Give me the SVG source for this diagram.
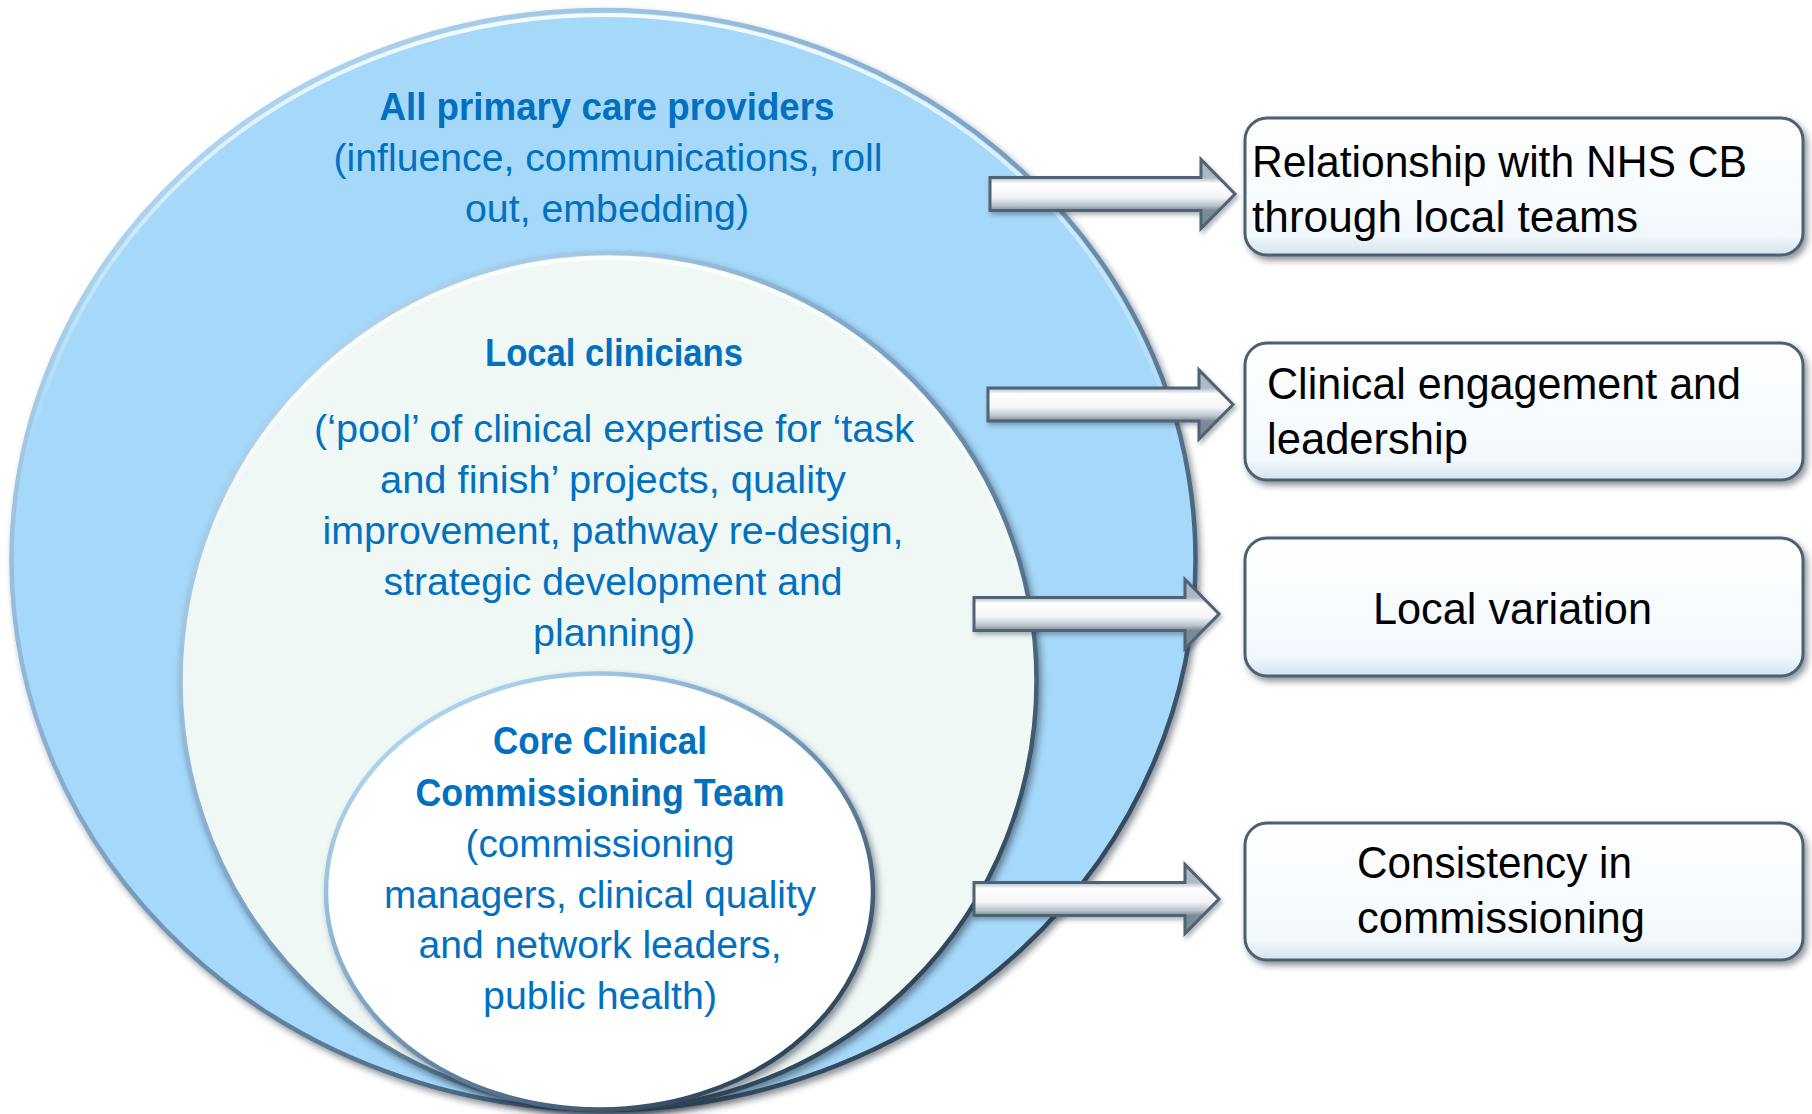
<svg xmlns="http://www.w3.org/2000/svg" width="1812" height="1114" viewBox="0 0 1812 1114">
<defs>
  <style>
    .blue { font-family: "Liberation Sans", Arial, sans-serif; font-size: 38px; fill: #0070C0; text-anchor: middle; }
    .bold { font-weight: bold; }
    .box-text { font-family: "Liberation Sans", Arial, sans-serif; font-size: 44px; fill: #000000; }
    .ring { stroke: url(#ringStroke); stroke-width: 4.5; filter: url(#shadow); }
    .hl { fill: none; stroke: url(#hlStroke); stroke-width: 4; }
    .box { fill: url(#boxFill); stroke: #4b6072; stroke-width: 3; filter: url(#shadow); }
    .arrow { fill: url(#arrowFill); stroke: #4f6375; stroke-width: 3; stroke-linejoin: miter; filter: url(#shadowSmall); }
  </style>
  <filter id="shadow" x="-10%" y="-10%" width="125%" height="125%">
    <feDropShadow dx="3" dy="4" stdDeviation="3" flood-color="#1d2b38" flood-opacity="0.5"/>
  </filter>
  <filter id="shadowSmall" x="-10%" y="-20%" width="120%" height="150%">
    <feDropShadow dx="2" dy="3" stdDeviation="2" flood-color="#1d2b38" flood-opacity="0.35"/>
  </filter>
  <linearGradient id="ringStroke" x1="0.15" y1="0" x2="0.9" y2="0.85">
    <stop offset="0" stop-color="#b9def7"/>
    <stop offset="0.45" stop-color="#7ea6c8"/>
    <stop offset="1" stop-color="#2c4256"/>
  </linearGradient>
  <linearGradient id="hlStroke" x1="0" y1="0" x2="0" y2="1">
    <stop offset="0" stop-color="#ffffff" stop-opacity="0.9"/>
    <stop offset="0.4" stop-color="#ffffff" stop-opacity="0"/>
  </linearGradient>
  <linearGradient id="boxFill" x1="0" y1="0" x2="0" y2="1">
    <stop offset="0" stop-color="#ffffff"/>
    <stop offset="0.85" stop-color="#f2f9fe"/>
    <stop offset="1" stop-color="#d5e2ec"/>
  </linearGradient>
  <linearGradient id="arrowFill" gradientUnits="userSpaceOnUse" x1="0" y1="-16.5" x2="0" y2="16.5">
    <stop offset="0" stop-color="#aeb8c3"/>
    <stop offset="0.18" stop-color="#ffffff"/>
    <stop offset="0.6" stop-color="#f2f4f6"/>
    <stop offset="0.85" stop-color="#b9c2cb"/>
    <stop offset="1" stop-color="#7c8996"/>
  </linearGradient>
  <path id="blockArrow" d="M0,-16.5 H211 V-34.5 L245,0 L211,34.5 V16.5 H0 Z"/>
</defs>

<rect x="0" y="0" width="1812" height="1114" fill="#ffffff"/>

<g id="node-all-primary-care-providers">
  <ellipse class="ring" cx="603.5" cy="560" rx="592" ry="550" fill="#a6d8f9"/>
  <ellipse class="hl" cx="603.5" cy="560" rx="587" ry="545"/>
  <text class="blue bold" x="607" y="120" textLength="455" lengthAdjust="spacingAndGlyphs">All primary care providers</text>
  <text class="blue" x="608" y="171" textLength="549" lengthAdjust="spacingAndGlyphs">(influence, communications, roll</text>
  <text class="blue" x="607" y="222" textLength="284" lengthAdjust="spacingAndGlyphs">out, embedding)</text>
</g>

<g id="node-local-clinicians">
  <ellipse class="ring" cx="608.5" cy="681" rx="428" ry="428" fill="#f0f8f6"/>
  <ellipse class="hl" cx="608.5" cy="681" rx="423" ry="423"/>
  <text class="blue bold" x="614" y="366" textLength="258" lengthAdjust="spacingAndGlyphs">Local clinicians</text>
  <text class="blue" x="614" y="442" textLength="600" lengthAdjust="spacingAndGlyphs">(‘pool’ of clinical expertise for ‘task</text>
  <text class="blue" x="613" y="493" textLength="466" lengthAdjust="spacingAndGlyphs">and finish’ projects, quality</text>
  <text class="blue" x="613" y="544" textLength="581" lengthAdjust="spacingAndGlyphs">improvement, pathway re-design,</text>
  <text class="blue" x="613" y="595" textLength="459" lengthAdjust="spacingAndGlyphs">strategic development and</text>
  <text class="blue" x="614" y="646" textLength="162" lengthAdjust="spacingAndGlyphs">planning)</text>
</g>

<g id="node-core-clinical-commissioning-team">
  <ellipse class="ring" cx="599.5" cy="891.5" rx="273.5" ry="218" fill="#ffffff"/>
  <ellipse class="hl" cx="599.5" cy="891.5" rx="268.5" ry="213"/>
  <text class="blue bold" x="600" y="754" textLength="214" lengthAdjust="spacingAndGlyphs">Core Clinical</text>
  <text class="blue bold" x="600" y="806" textLength="369" lengthAdjust="spacingAndGlyphs">Commissioning Team</text>
  <text class="blue" x="600" y="857" textLength="269" lengthAdjust="spacingAndGlyphs">(commissioning</text>
  <text class="blue" x="600" y="908" textLength="432" lengthAdjust="spacingAndGlyphs">managers, clinical quality</text>
  <text class="blue" x="600" y="958" textLength="363" lengthAdjust="spacingAndGlyphs">and network leaders,</text>
  <text class="blue" x="600" y="1009" textLength="234" lengthAdjust="spacingAndGlyphs">public health)</text>
</g>

<g id="connectors">
  <use href="#blockArrow" class="arrow" transform="translate(990,194)"/>
  <use href="#blockArrow" class="arrow" transform="translate(988,404.5)"/>
  <use href="#blockArrow" class="arrow" transform="translate(974,614)"/>
  <use href="#blockArrow" class="arrow" transform="translate(974,899)"/>
</g>

<g id="node-relationship">
  <rect class="box" x="1245" y="118" width="558" height="137" rx="22" ry="22"/>
  <text class="box-text" x="1252" y="177" textLength="495" lengthAdjust="spacingAndGlyphs">Relationship with NHS CB</text>
  <text class="box-text" x="1252" y="232" textLength="386" lengthAdjust="spacingAndGlyphs">through local teams</text>
</g>

<g id="node-clinical-engagement">
  <rect class="box" x="1245" y="343" width="558" height="137" rx="22" ry="22"/>
  <text class="box-text" x="1267" y="399" textLength="474" lengthAdjust="spacingAndGlyphs">Clinical engagement and</text>
  <text class="box-text" x="1267" y="454" textLength="201" lengthAdjust="spacingAndGlyphs">leadership</text>
</g>

<g id="node-local-variation">
  <rect class="box" x="1245" y="538" width="558" height="138" rx="22" ry="22"/>
  <text class="box-text" x="1373" y="624" textLength="279" lengthAdjust="spacingAndGlyphs">Local variation</text>
</g>

<g id="node-consistency">
  <rect class="box" x="1245" y="823" width="558" height="137" rx="22" ry="22"/>
  <text class="box-text" x="1357" y="878" textLength="275" lengthAdjust="spacingAndGlyphs">Consistency in</text>
  <text class="box-text" x="1357" y="933" textLength="288" lengthAdjust="spacingAndGlyphs">commissioning</text>
</g>
</svg>
